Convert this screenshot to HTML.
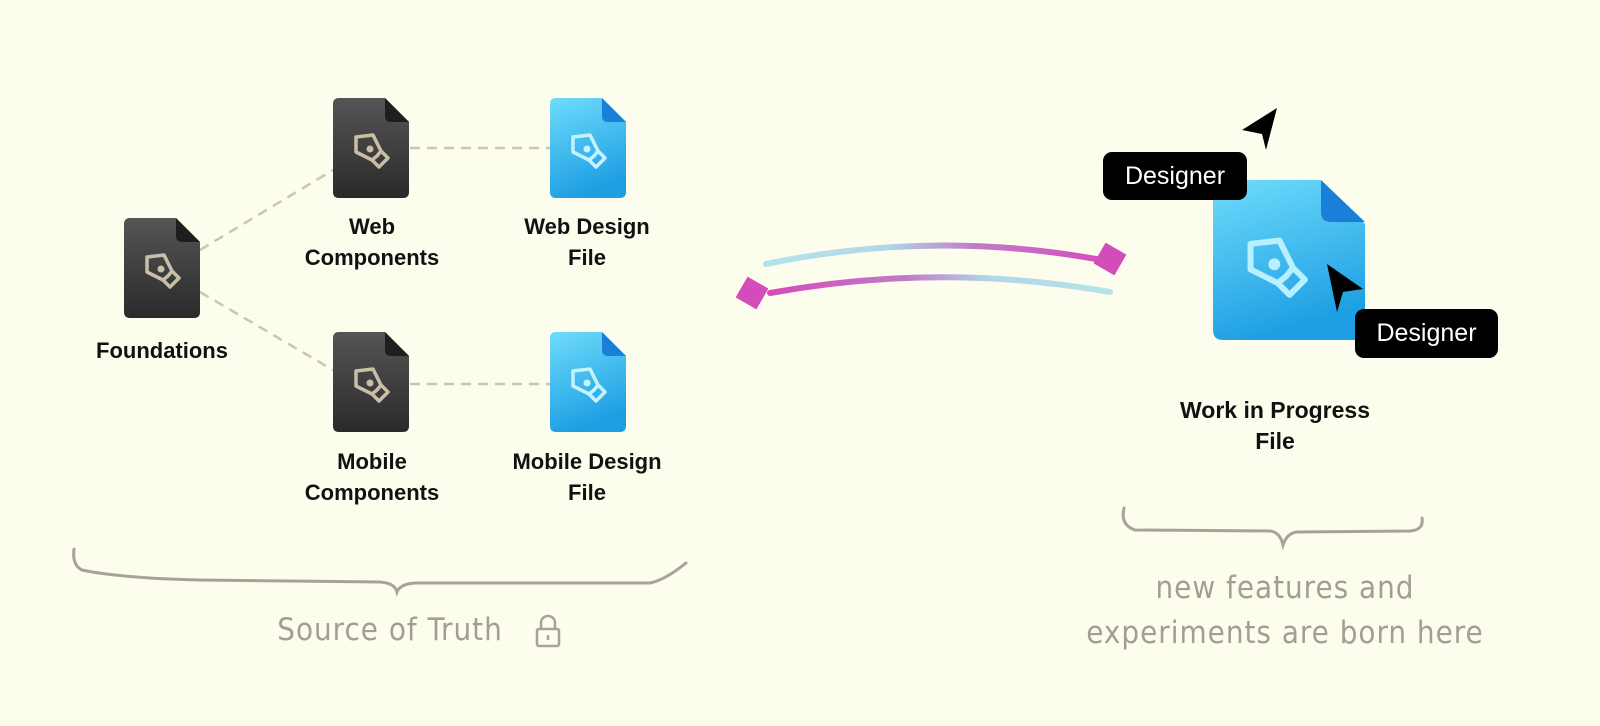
<!DOCTYPE html>
<html><head><meta charset="utf-8"><style>
html,body{margin:0;padding:0;background:#fdfdee;}
body{width:1600px;height:726px;position:relative;overflow:hidden;font-family:"Liberation Sans",sans-serif;}
.lbl{position:absolute;font-weight:bold;font-size:22px;color:#111;text-align:center;line-height:31px;width:240px;}
.tag{position:absolute;background:#000;color:#fff;font-size:25px;border-radius:9px;text-align:center;}
.hand{position:absolute;color:#a09f92;font-family:"DejaVu Sans Condensed","Liberation Sans",sans-serif;font-size:31px;text-align:center;letter-spacing:1px;font-weight:normal;white-space:nowrap;}
</style></head><body>
<svg width="1600" height="726" style="position:absolute;left:0;top:0">
<defs>
<linearGradient id="dk" x1="0" y1="0" x2="0" y2="1"><stop offset="0" stop-color="#555"/><stop offset="1" stop-color="#2a2a2a"/></linearGradient>
<linearGradient id="bl" x1="0" y1="0" x2="0.3" y2="1"><stop offset="0" stop-color="#6fdcfb"/><stop offset="1" stop-color="#1e9fe3"/></linearGradient>
<linearGradient id="g1" x1="0" y1="0" x2="1" y2="0"><stop offset="0" stop-color="#b5e3ea"/><stop offset="0.35" stop-color="#b0d8e8"/><stop offset="0.6" stop-color="#c07cc8"/><stop offset="1" stop-color="#d64bba"/></linearGradient>
<linearGradient id="g2" x1="1" y1="0" x2="0" y2="0"><stop offset="0" stop-color="#b5e3ea"/><stop offset="0.35" stop-color="#b0d8e8"/><stop offset="0.6" stop-color="#c07cc8"/><stop offset="1" stop-color="#d64bba"/></linearGradient>
<symbol id="pen" viewBox="0 0 40 40"><path d="M5 7 L22 5 L30 21 L26 26 L21 30 L5 22 Z M21 30 L28 37 L37 28 L30 21" fill="none" stroke="currentColor" stroke-width="3.5" stroke-linejoin="round"/><circle cx="19" cy="19" r="3.5" fill="currentColor"/></symbol>
</defs>
<g stroke="#c8c6b6" stroke-width="2.5" stroke-dasharray="10,7" fill="none">
<line x1="200" y1="250" x2="333" y2="170"/><line x1="200" y1="292" x2="333" y2="370"/>
<line x1="410" y1="148" x2="550" y2="148"/><line x1="410" y1="384" x2="550" y2="384"/>
</g>
<g id="dark">
<path d="M124 224 q0-6 6-6 h46 l24 24 v70 q0 6-6 6 h-64 q-6 0-6-6z" fill="url(#dk)"/>
<path d="M176 218 v18 q0 6 6 6 h18z" fill="#1e1e1e"/>
<use href="#pen" x="142" y="250" width="40" height="40" color="#c9bfa6"/>
</g>
<use href="#dark" x="209" y="-120"/>
<use href="#dark" x="209" y="114"/>
<g id="blue">
<path d="M550 104 q0-6 6-6 h46 l24 24 v70 q0 6-6 6 h-64 q-6 0-6-6z" fill="url(#bl)"/>
<path d="M602 98 v18 q0 6 6 6 h18z" fill="#1a7fd8"/>
<use href="#pen" x="568" y="130" width="40" height="40" color="#c6f2ff"/>
</g>
<use href="#blue" x="0" y="234"/>
<path d="M1213 190 q0-10 10-10 h98 l44 44 v106 q0 10-10 10 h-132 q-10 0-10-10z" fill="url(#bl)"/>
<path d="M1321 180 v32 q0 10 10 10 h34z" fill="#1a7fd8"/>
<use href="#pen" x="1242" y="232" width="68" height="68" color="#b8f0ff"/>
<path d="M1277 108 L1242 130 L1262 134 L1266 150 Z" fill="#000"/>
<path d="M1327 264 L1363 289 L1343 292 L1337 312 Z" fill="#000"/>
<path d="M766 264 Q940 228 1112 262" stroke="url(#g1)" stroke-width="6" fill="none" stroke-linecap="round"/>
<path d="M770 293 Q940 262 1110 292" stroke="url(#g2)" stroke-width="6" fill="none" stroke-linecap="round"/>
<rect x="1098" y="247" width="24" height="24" fill="#d24cba" transform="rotate(30 1110 259)"/>
<rect x="740" y="281" width="24" height="24" fill="#d24cba" transform="rotate(30 752 293)"/>
<g stroke="#a5a497" stroke-width="3" fill="none" stroke-linecap="round">
<path d="M74 549 Q72 565 82 570 Q120 578 200 580 L380 582 Q395 583 397 592 Q400 584 415 583 L650 583 Q665 580 686 563"/>
<path d="M1124 508 Q1120 525 1135 530 L1270 531 Q1280 532 1283 545 Q1287 533 1297 532 L1410 531 Q1424 530 1422 518"/>
</g>
<g stroke="#a5a497" stroke-width="2.5" fill="none"><rect x="537" y="629" width="22" height="17" rx="2"/><path d="M541 629 v-6 a7 7 0 0 1 14 0 v6"/><line x1="548" y1="635" x2="548" y2="640"/></g>
</svg>
<div class="lbl" style="left:42px;top:335px">Foundations</div>
<div class="lbl" style="left:252px;top:211px">Web<br>Components</div>
<div class="lbl" style="left:467px;top:211px">Web Design<br>File</div>
<div class="lbl" style="left:252px;top:446px">Mobile<br>Components</div>
<div class="lbl" style="left:467px;top:446px">Mobile Design<br>File</div>
<div class="lbl" style="left:1155px;top:395px;font-size:23px">Work in Progress<br>File</div>
<div class="tag" style="left:1103px;top:152px;width:144px;height:48px;line-height:48px">Designer</div>
<div class="tag" style="left:1355px;top:309px;width:143px;height:49px;line-height:49px">Designer</div>
<div class="hand" style="left:250px;top:612px;width:280px">Source of Truth</div>
<div class="hand" style="left:1060px;top:566px;width:450px;line-height:45px">new features and<br>experiments are born here</div>
</body></html>
